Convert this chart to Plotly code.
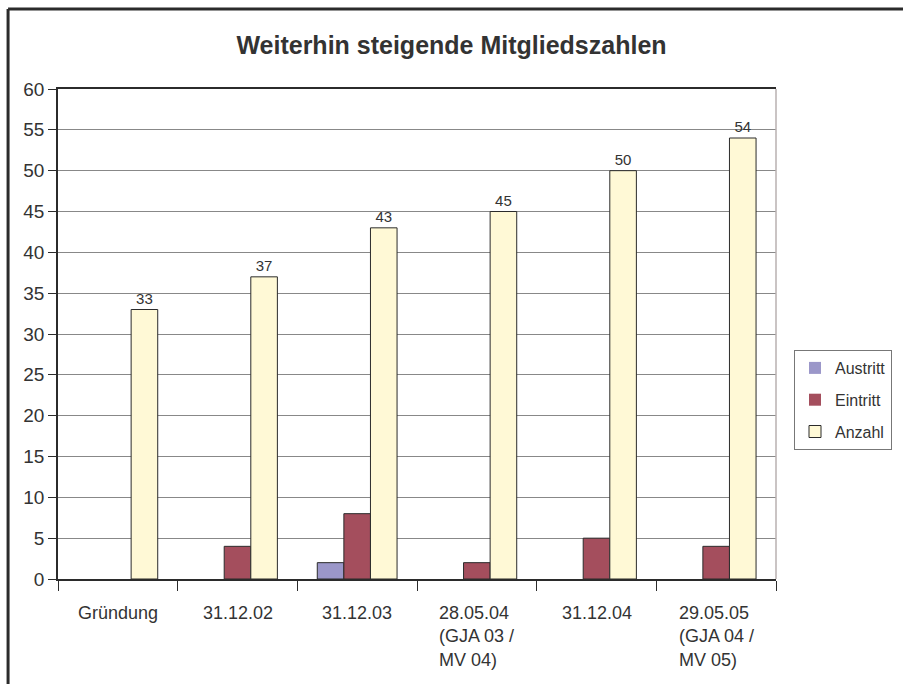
import plotly.graph_objects as go

categories = ["Gründung", "31.12.02", "31.12.03", "28.05.04", "31.12.04", "29.05.05"]
category_labels = ["Gründung", "31.12.02", "31.12.03", "28.05.04<br>(GJA 03 /<br>MV 04)",
                   "31.12.04", "29.05.05<br>(GJA 04 /<br>MV 05)"]
austritt = [0, 0, 2, 0, 0, 0]
eintritt = [0, 4, 8, 2, 5, 4]
anzahl = [33, 37, 43, 45, 50, 54]
y_ticks = list(range(0, 61, 5))

FONT = "Liberation Sans"
TXT = "#333333"
EDGE = "#2b2b2b"


def edge_widths(vals):
    return [1 if v else 0 for v in vals]


fig = go.Figure()
fig.add_trace(go.Bar(name="Austritt", x=categories, y=austritt, legendgroup="a",
                     marker=dict(color="#9b97c9", line=dict(color=EDGE, width=edge_widths(austritt)))))
fig.add_trace(go.Bar(name="Eintritt", x=categories, y=eintritt, legendgroup="e",
                     marker=dict(color="#a44e5d", line=dict(color=EDGE, width=edge_widths(eintritt)))))
fig.add_trace(go.Bar(name="Anzahl", x=categories, y=anzahl, legendgroup="z",
                     marker=dict(color="#fff9d6", line=dict(color=EDGE, width=1)),
                     text=[str(v) for v in anzahl], textposition="outside",
                     textfont=dict(family=FONT, size=15, color=TXT), cliponaxis=False))

annotations = []
for c, lab in zip(categories, category_labels):
    annotations.append(dict(x=c, xref="x", y=-0.045, yref="paper", yanchor="top",
                            text=lab, showarrow=False, align="left",
                            font=dict(family=FONT, size=18, color=TXT)))

bx0 = (8 - 58) / 719
bx1 = (960 - 58) / 719
by0 = (579 - 760) / 490
by1 = (579 - 9) / 490

fig.update_layout(
    width=903, height=684, autosize=False,
    margin=dict(l=58, r=126, t=89, b=105),
    paper_bgcolor="white", plot_bgcolor="white",
    title=dict(text="<b>Weiterhin steigende Mitgliedszahlen</b>", x=0.5, xanchor="center",
               y=1 - 45 / 684, yanchor="middle",
               font=dict(family=FONT, size=25, color=TXT)),
    barmode="group", bargap=1 / 3, bargroupgap=0,
    font=dict(family=FONT, color=TXT),
    xaxis=dict(showticklabels=False, ticks="outside", tickson="boundaries", ticklen=10,
               tickcolor=EDGE, showline=True, linecolor=EDGE, linewidth=1.5, mirror=True,
               showgrid=False),
    yaxis=dict(range=[0, 60], tickvals=y_ticks, ticks="outside", ticklen=8, tickcolor=EDGE,
               showline=True, linecolor=EDGE, linewidth=1.5, gridcolor="#888888",
               gridwidth=1, zeroline=False,
               tickfont=dict(family=FONT, size=19, color=TXT)),
    legend=dict(x=(794 - 58) / 719, y=(579 - 350) / 490, xanchor="left", yanchor="top",
                bgcolor="white", bordercolor="#777777", borderwidth=1,
                font=dict(family=FONT, size=16, color=TXT), traceorder="grouped",
                tracegroupgap=8, itemwidth=30),
    annotations=annotations,
    shapes=[
        dict(type="line", xref="paper", yref="paper", x0=1, x1=1, y0=0, y1=1,
             line=dict(color="#b8b0b0", width=1.5)),
        dict(type="line", xref="paper", yref="paper", x0=bx0, x1=bx0, y0=by0, y1=by1,
             line=dict(color="#2b2b2b", width=3), layer="above"),
        dict(type="line", xref="paper", yref="paper", x0=bx0, x1=bx1, y0=by1, y1=by1,
             line=dict(color="#2b2b2b", width=3), layer="above"),
    ],
)

fig.write_html("out.html", config={"displayModeBar": False},
               post_script="document.body.style.margin='0';")
